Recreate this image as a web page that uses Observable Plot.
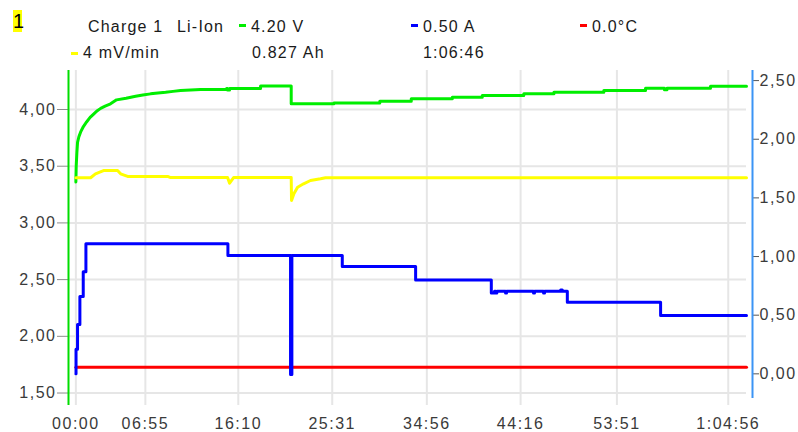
<!DOCTYPE html>
<html>
<head>
<meta charset="utf-8">
<script src="https://cdn.jsdelivr.net/npm/d3@7"></script>
<script src="https://cdn.jsdelivr.net/npm/@observablehq/plot@0.6"></script>
<style>
  body { margin: 0; background: #fff; }
  #wrap { position: relative; width: 798px; height: 432px; overflow: hidden; font-family: "Liberation Sans", Arial, sans-serif; }
  #wrap svg { position: absolute; left: 0; top: 0; }
  .h { position: absolute; font-size: 16px; line-height: 16px; letter-spacing: 1.2px; color: #1a1a1a; white-space: pre; }
  .sw { position: absolute; width: 7px; height: 3px; }
  #badge { position: absolute; left: 13px; top: 10px; width: 9px; height: 22px; background: #ffff00; color: #000; font-size: 20px; line-height: 22px; text-align: center; font-weight: normal; }
</style>
</head>
<body>
<div id="wrap"></div>
<script>
// ---- data ----
const timeTicks = [0, 415, 970, 1531, 2096, 2656, 3231, 3896];
const timeLabels = ["00:00", "06:55", "16:10", "25:31", "34:56", "44:16", "53:51", "1:04:56"];
const voltTicks = [1.5, 2.0, 2.5, 3.0, 3.5, 4.0];
const voltLabels = ["1,50", "2,00", "2,50", "3,00", "3,50", "4,00"];
const ampTicks = [0, 0.5, 1.0, 1.5, 2.0, 2.5];
const ampLabels = ["0,00", "0,50", "1,00", "1,50", "2,00", "2,50"];

const voltDomain = [1.39, 4.344];
const ampDomain = [-0.270, 2.586];
const tempDomain = [-5.7, 44.3];
const timeDomain = [-44, 4005];

// voltage (V), green — initial rise (smooth)
const riseTime = [0, 2, 6, 10, 18, 28, 45, 64, 85, 106, 128, 148, 175, 207, 243, 300, 357, 400, 446, 490, 536, 580, 625, 745];
const riseValues = [3.36, 3.50, 3.62, 3.71, 3.76, 3.80, 3.85, 3.89, 3.93, 3.96, 3.99, 4.01, 4.03, 4.05, 4.085, 4.10, 4.117, 4.128, 4.138, 4.146, 4.152, 4.16, 4.167, 4.176];
// voltage (V), green — stepped part
const voltTime = [745, 900, 906, 918, 1103, 1286, 1541, 1815, 2003, 2248, 2427, 2675, 2855, 3153, 3402, 3515, 3530, 3790, 4005];
const voltValues = [4.176, 4.185, 4.172, 4.185, 4.208, 4.05, 4.058, 4.072, 4.094, 4.108, 4.123, 4.138, 4.152, 4.167, 4.187, 4.175, 4.187, 4.205, 4.205];

// slope trace (yellow), read on left axis
const slopeTime = [0, 88, 117, 165, 249, 267, 309, 548, 566, 906, 918, 942, 1286, 1288, 1302, 1324, 1360, 1401, 1461, 1491, 4005];
const slopeValues = [3.398, 3.398, 3.433, 3.462, 3.462, 3.433, 3.41, 3.41, 3.40, 3.40, 3.35, 3.40, 3.40, 3.198, 3.257, 3.315, 3.345, 3.374, 3.389, 3.398, 3.398];

// current (A), blue, right axis
const currentTime = [0, 1, 10, 24, 44, 60, 908, 1282, 1290, 1591, 2029, 2481, 2500, 2507, 2514, 2566, 2572, 2733, 2739, 2793, 2799, 2895, 2905, 2935, 3492, 4005];
const currentAmps = [0.0, 0.21, 0.42, 0.66, 0.87, 1.108, 1.008, -0.005, 1.008, 0.915, 0.80, 0.69, 0.704, 0.69, 0.704, 0.69, 0.704, 0.69, 0.704, 0.69, 0.704, 0.715, 0.704, 0.61, 0.497, 0.497];

// temperature (°C), red
const tempTime = [0, 4005];
const tempValues = [0.0, 0.0];

// ---- scales mapping secondary series onto the primary y ----
const ampToY = d3.scaleLinear().domain(ampDomain).range(voltDomain);
const tempToY = d3.scaleLinear().domain(tempDomain).range(voltDomain);

const GRID = "#e6e6e6";
const font = '"Liberation Sans", Arial, sans-serif';

const chart = Plot.plot({
  width: 798,
  height: 432,
  marginLeft: 68,
  marginRight: 52,
  marginTop: 70,
  marginBottom: 27,
  style: { fontFamily: font, fontSize: "16px", letterSpacing: "1.5px", color: "#3a3a3a", background: "#fff" },
  x: { domain: timeDomain, axis: null },
  y: { domain: voltDomain, axis: null },
  marks: [
    Plot.gridX(timeTicks, { stroke: GRID, strokeOpacity: 1, strokeWidth: 2 }),
    Plot.gridY(voltTicks, { stroke: GRID, strokeOpacity: 1, strokeWidth: 2 }),
    Plot.axisY(voltTicks, {
      anchor: "left", tickSize: 11, tickPadding: 1, stroke: "#8c8c8c", fill: "#3a3a3a",
      tickFormat: d => voltLabels[voltTicks.indexOf(d)]
    }),
    Plot.axisY(ampTicks.map(a => ampToY(a)), {
      anchor: "right", tickSize: 6, tickPadding: 1, dx: 6, stroke: "#555", fill: "#3a3a3a",
      tickFormat: d => ampLabels[ampTicks.indexOf(Math.round(ampToY.invert(d) * 100) / 100 + 0)]
    }),
    Plot.axisX(timeTicks, {
      anchor: "bottom", tickSize: 0, tickPadding: 12, fill: "#3a3a3a",
      tickFormat: d => timeLabels[timeTicks.indexOf(d)]
    }),
    Plot.ruleX([timeDomain[0]], { stroke: "#00dd00", strokeWidth: 2 }),
    Plot.ruleX([timeDomain[1]], { y1: ampToY(ampDomain[0] + 0.06), y2: voltDomain[1], stroke: "#3b94f5", strokeWidth: 2, dx: 6 }),
    Plot.line(tempValues, { x: (d, i) => tempTime[i], y: d => tempToY(d), stroke: "#ff0000", strokeWidth: 3 }),
    Plot.line(riseValues, { x: (d, i) => riseTime[i], y: d => d, stroke: "#00ee00", strokeWidth: 3 }),
    Plot.line(voltValues, { x: (d, i) => voltTime[i], y: d => d, curve: "step-after", stroke: "#00ee00", strokeWidth: 3 }),
    Plot.line(slopeValues, { x: (d, i) => slopeTime[i], y: d => d, stroke: "#ffff00", strokeWidth: 3 }),
    Plot.line(currentAmps, { x: (d, i) => currentTime[i], y: d => ampToY(d), curve: "step-after", stroke: "#0000ff", strokeWidth: 3 })
  ]
});

const wrap = document.getElementById("wrap");
wrap.appendChild(chart);

// ---- header (legend/readout) ----
const header = [
  { text: "Charge 1", x: 88, row: 0 },
  { text: "Li-Ion", x: 177, row: 0 },
  { text: "4.20 V", x: 251, row: 0, swatch: "#00ee00" },
  { text: "0.50 A", x: 423, row: 0, swatch: "#0000ff" },
  { text: "0.0°C", x: 592, row: 0, swatch: "#ff0000" },
  { text: "4 mV/min", x: 83, row: 1, swatch: "#ffff00" },
  { text: "0.827 Ah", x: 252, row: 1 },
  { text: "1:06:46", x: 423, row: 1 }
];
const rowTop = [19, 45];
const swatchTop = [24, 52];
const badge = document.createElement("div");
badge.id = "badge";
badge.textContent = "1";
wrap.appendChild(badge);
header.forEach(h => {
  const s = document.createElement("div");
  s.className = "h";
  s.textContent = h.text;
  s.style.left = h.x + "px";
  s.style.top = rowTop[h.row] + "px";
  wrap.appendChild(s);
  if (h.swatch) {
    const w = document.createElement("div");
    w.className = "sw";
    w.style.background = h.swatch;
    w.style.left = (h.x - 12) + "px";
    w.style.top = swatchTop[h.row] + "px";
    wrap.appendChild(w);
  }
});
</script>
</body>
</html>
